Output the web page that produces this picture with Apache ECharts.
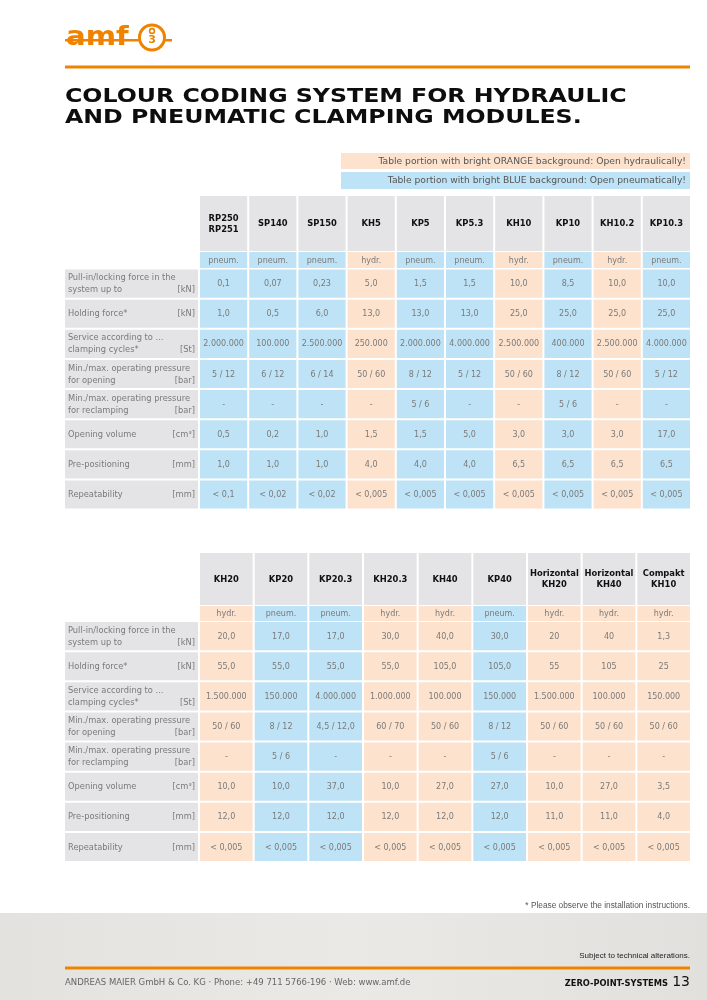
<!DOCTYPE html>
<html><head><meta charset="utf-8">
<script src="https://cdn.jsdelivr.net/npm/echarts@6/dist/echarts.min.js"></script>
<style>html,body{margin:0;padding:0;background:#fff}#c{width:707px;height:1000px}</style>
</head><body><div id="c"></div>
<script>
// ---------- data ----------
const rowLabels = ['Pull-in/locking force in the\nsystem up to', 'Holding force*', 'Service according to ...\nclamping cycles*',
  'Min./max. operating pressure\nfor opening', 'Min./max. operating pressure\nfor reclamping', 'Opening volume', 'Pre-positioning', 'Repeatability'];
const rowUnits = ['[kN]', '[kN]', '[St]', '[bar]', '[bar]', '[cm³]', '[mm]', '[mm]'];

const models1 = ['RP250\nRP251', 'SP140', 'SP150', 'KH5', 'KP5', 'KP5.3', 'KH10', 'KP10', 'KH10.2', 'KP10.3'];
const types1 = ['pneum.', 'pneum.', 'pneum.', 'hydr.', 'pneum.', 'pneum.', 'hydr.', 'pneum.', 'hydr.', 'pneum.'];
const pullIn1 = ['0,1', '0,07', '0,23', '5,0', '1,5', '1,5', '10,0', '8,5', '10,0', '10,0'];
const holding1 = ['1,0', '0,5', '6,0', '13,0', '13,0', '13,0', '25,0', '25,0', '25,0', '25,0'];
const service1 = ['2.000.000', '100.000', '2.500.000', '250.000', '2.000.000', '4.000.000', '2.500.000', '400.000', '2.500.000', '4.000.000'];
const openPress1 = ['5 / 12', '6 / 12', '6 / 14', '50 / 60', '8 / 12', '5 / 12', '50 / 60', '8 / 12', '50 / 60', '5 / 12'];
const reclampPress1 = ['-', '-', '-', '-', '5 / 6', '-', '-', '5 / 6', '-', '-'];
const openVol1 = ['0,5', '0,2', '1,0', '1,5', '1,5', '5,0', '3,0', '3,0', '3,0', '17,0'];
const prePos1 = ['1,0', '1,0', '1,0', '4,0', '4,0', '4,0', '6,5', '6,5', '6,5', '6,5'];
const repeat1 = ['< 0,1', '< 0,02', '< 0,02', '< 0,005', '< 0,005', '< 0,005', '< 0,005', '< 0,005', '< 0,005', '< 0,005'];

const models2 = ['KH20', 'KP20', 'KP20.3', 'KH20.3', 'KH40', 'KP40', 'Horizontal\nKH20', 'Horizontal\nKH40', 'Compakt\nKH10'];
const types2 = ['hydr.', 'pneum.', 'pneum.', 'hydr.', 'hydr.', 'pneum.', 'hydr.', 'hydr.', 'hydr.'];
const pullIn2 = ['20,0', '17,0', '17,0', '30,0', '40,0', '30,0', '20', '40', '1,3'];
const holding2 = ['55,0', '55,0', '55,0', '55,0', '105,0', '105,0', '55', '105', '25'];
const service2 = ['1.500.000', '150.000', '4.000.000', '1.000.000', '100.000', '150.000', '1.500.000', '100.000', '150.000'];
const openPress2 = ['50 / 60', '8 / 12', '4,5 / 12,0', '60 / 70', '50 / 60', '8 / 12', '50 / 60', '50 / 60', '50 / 60'];
const reclampPress2 = ['-', '5 / 6', '-', '-', '-', '5 / 6', '-', '-', '-'];
const openVol2 = ['10,0', '10,0', '37,0', '10,0', '27,0', '27,0', '10,0', '27,0', '3,5'];
const prePos2 = ['12,0', '12,0', '12,0', '12,0', '12,0', '12,0', '11,0', '11,0', '4,0'];
const repeat2 = ['< 0,005', '< 0,005', '< 0,005', '< 0,005', '< 0,005', '< 0,005', '< 0,005', '< 0,005', '< 0,005'];

const legendTexts = ['Table portion with bright ORANGE background: Open hydraulically!', 'Table portion with bright BLUE background: Open pneumatically!'];

// ---------- styles ----------
const ORANGE = '#ef8300';
const BLUE_BG = '#bee3f6';
const ORANGE_BG = '#fde2cd';
const GRAY_BG = '#e4e4e6';
const TXT = '#7a7a7a';
const FONT = '"DejaVu Sans", "Liberation Sans", sans-serif';
const typeFill = t => (t === 'hydr.' ? ORANGE_BG : BLUE_BG);

const rows1 = [pullIn1, holding1, service1, openPress1, reclampPress1, openVol1, prePos1, repeat1];
const rows2 = [pullIn2, holding2, service2, openPress2, reclampPress2, openVol2, prePos2, repeat2];

function buildCells(models, types, rows) {
  const header = models.map((m, i) => ({ col: i, row: 0, text: m, fill: GRAY_BG }));
  const type = types.map((t, i) => ({ col: i, row: 0, text: t, fill: typeFill(t) }));
  const data = [];
  rows.forEach((vals, r) => vals.forEach((v, c) => data.push({ col: c, row: r, text: v, fill: typeFill(types[c]) })));
  const labels = rowLabels.map((l, r) => ({ col: 0, row: r, text: l, unit: rowUnits[r], fill: GRAY_BG }));
  return { header, type, data, labels };
}
const t1 = buildCells(models1, types1, rows1);
const t2 = buildCells(models2, types2, rows2);

function cellSeries(gi, cells, font, color, lh) {
  return {
    type: 'custom', xAxisIndex: gi, yAxisIndex: gi, silent: true, animation: false,
    data: cells.map(c => [c.col, c.row]),
    renderItem: function (params, api) {
      const cell = cells[params.dataIndex];
      const p = api.coord([api.value(0), api.value(1)]);
      const s = api.size([1, 1]);
      return {
        type: 'group', children: [
          { type: 'rect', shape: { x: p[0] - s[0] / 2 + 1, y: p[1] - s[1] / 2 + 1, width: s[0] - 2, height: s[1] - 2 }, style: { fill: cell.fill } },
          { type: 'text', style: { text: cell.text, x: p[0], y: p[1] + 0.5, align: 'center', verticalAlign: 'middle', font: font, fill: color, lineHeight: lh } }
        ]
      };
    }
  };
}
function labelSeries(gi, cells) {
  return {
    type: 'custom', xAxisIndex: gi, yAxisIndex: gi, silent: true, animation: false,
    data: cells.map(c => [c.col, c.row]),
    renderItem: function (params, api) {
      const cell = cells[params.dataIndex];
      const p = api.coord([api.value(0), api.value(1)]);
      const s = api.size([1, 1]);
      const x0 = p[0] - s[0] / 2 + 1, x1 = p[0] + s[0] / 2 - 1;
      const two = cell.text.indexOf('\n') >= 0;
      const lh = 12;
      return {
        type: 'group', children: [
          { type: 'rect', shape: { x: x0, y: p[1] - s[1] / 2 + 1, width: s[0] - 2, height: s[1] - 2 }, style: { fill: cell.fill } },
          { type: 'text', style: { text: cell.text, x: x0 + 3, y: p[1] + 0.5, align: 'left', verticalAlign: 'middle', font: '8.3px ' + FONT, fill: TXT, lineHeight: lh } },
          { type: 'text', style: { text: cell.unit, x: x1 - 3, y: p[1] + 0.5 + (two ? lh / 2 : 0), align: 'right', verticalAlign: 'middle', font: '8.3px ' + FONT, fill: TXT } }
        ]
      };
    }
  };
}

// grids: [left, top, width, height]
const gridBoxes = [
  [199, 195, 492, 57], [199, 251, 492, 18], [199, 268.5, 492, 241], [64, 268.5, 135, 241],
  [199, 552, 492, 54], [199, 605, 492, 17], [199, 621, 492, 241], [64, 621, 135, 241]
];
const xCats = [models1, models1, models1, ['l'], models2, models2, models2, ['l']];
const yCats = [['h'], ['t'], rowLabels, rowLabels, ['h'], ['t'], rowLabels, rowLabels];

const option = {
  backgroundColor: '#ffffff',
  animation: false,
  grid: gridBoxes.map(b => ({ left: b[0], top: b[1], width: b[2], height: b[3], containLabel: false })),
  xAxis: xCats.map((c, i) => ({ type: 'category', gridIndex: i, data: c, show: false })),
  yAxis: yCats.map((c, i) => ({ type: 'category', gridIndex: i, data: c, show: false, inverse: true })),
  series: [
    cellSeries(0, t1.header, 'bold 8.4px ' + FONT, '#111', 11),
    cellSeries(1, t1.type, '8px ' + FONT, TXT, 10),
    cellSeries(2, t1.data, '8px ' + FONT, TXT, 10),
    labelSeries(3, t1.labels),
    cellSeries(4, t2.header, 'bold 8.4px ' + FONT, '#111', 11),
    cellSeries(5, t2.type, '8px ' + FONT, TXT, 10),
    cellSeries(6, t2.data, '8px ' + FONT, TXT, 10),
    labelSeries(7, t2.labels)
  ],
  graphic: [
    // logo
    { type: 'rect', shape: { x: 65, y: 39, width: 107, height: 2.6 }, style: { fill: ORANGE } },
    { type: 'text', x: 66, y: 38, scaleX: 1.08, style: { text: 'amf', font: 'bold 27px "DejaVu Sans"', fill: ORANGE, verticalAlign: 'middle' } },
    { type: 'circle', shape: { cx: 152, cy: 37.5, r: 12.5 }, style: { fill: '#fff', stroke: ORANGE, lineWidth: 3 } },
    { type: 'circle', shape: { cx: 152, cy: 31, r: 2.4 }, style: { fill: 'none', stroke: ORANGE, lineWidth: 1.6 } },
    { type: 'text', x: 152, y: 40, style: { text: '3', font: 'bold 11px "DejaVu Sans"', fill: ORANGE, align: 'center', verticalAlign: 'middle' } },
    // top rule
    { type: 'rect', shape: { x: 65, y: 65.5, width: 625, height: 3 }, style: { fill: ORANGE } },
    // title
    { type: 'text', x: 65, y: 97, scaleX: 1.245, style: { text: 'COLOUR CODING SYSTEM FOR HYDRAULIC', font: 'bold 19px "DejaVu Sans"', fill: '#0d0d0d', verticalAlign: 'middle' } },
    { type: 'text', x: 65, y: 118.5, scaleX: 1.245, style: { text: 'AND PNEUMATIC CLAMPING MODULES.', font: 'bold 19px "DejaVu Sans"', fill: '#0d0d0d', verticalAlign: 'middle' } },
    // colour legend
    { type: 'rect', shape: { x: 341, y: 153, width: 349, height: 16 }, style: { fill: ORANGE_BG } },
    { type: 'text', x: 686, y: 161.5, style: { text: legendTexts[0], font: '9.2px ' + FONT, fill: '#555', align: 'right', verticalAlign: 'middle' } },
    { type: 'rect', shape: { x: 341, y: 172, width: 349, height: 17 }, style: { fill: BLUE_BG } },
    { type: 'text', x: 686, y: 180.5, style: { text: legendTexts[1], font: '9.2px ' + FONT, fill: '#555', align: 'right', verticalAlign: 'middle' } },
    // footnote
    { type: 'text', x: 690, y: 906, style: { text: '* Please observe the installation instructions.', font: '8.3px "Liberation Sans"', fill: '#555', align: 'right', verticalAlign: 'middle' } },
    // footer band
    { type: 'rect', z: -1, shape: { x: 0, y: 913, width: 707, height: 87 }, style: { fill: { type: 'linear', x: 0, y: 0, x2: 1, y2: 0, colorStops: [{ offset: 0, color: '#e4e2de' }, { offset: 0.5, color: '#ebe9e5' }, { offset: 1, color: '#e2e0dc' }] } } },
    { type: 'text', x: 690, y: 956, style: { text: 'Subject to technical alterations.', font: '8px "Liberation Sans Narrow", "Liberation Sans"', fill: '#222', align: 'right', verticalAlign: 'middle' } },
    { type: 'rect', shape: { x: 65, y: 966.5, width: 625, height: 3 }, style: { fill: ORANGE } },
    { type: 'text', x: 65, y: 983, style: { text: 'ANDREAS MAIER GmbH & Co. KG · Phone: +49 711 5766-196 · Web: www.amf.de', font: '8.5px ' + FONT, fill: '#666', verticalAlign: 'middle' } },
    { type: 'text', x: 668, y: 983.5, style: { text: 'ZERO-POINT-SYSTEMS', font: 'bold 8.3px ' + FONT, fill: '#111', align: 'right', verticalAlign: 'middle' } },
    { type: 'text', x: 690, y: 982, style: { text: '13', font: '14px ' + FONT, fill: '#111', align: 'right', verticalAlign: 'middle' } }
  ]
};
const chart = echarts.init(document.getElementById('c'), null, { renderer: 'canvas', width: 707, height: 1000 });
chart.setOption(option);
</script></body></html>
